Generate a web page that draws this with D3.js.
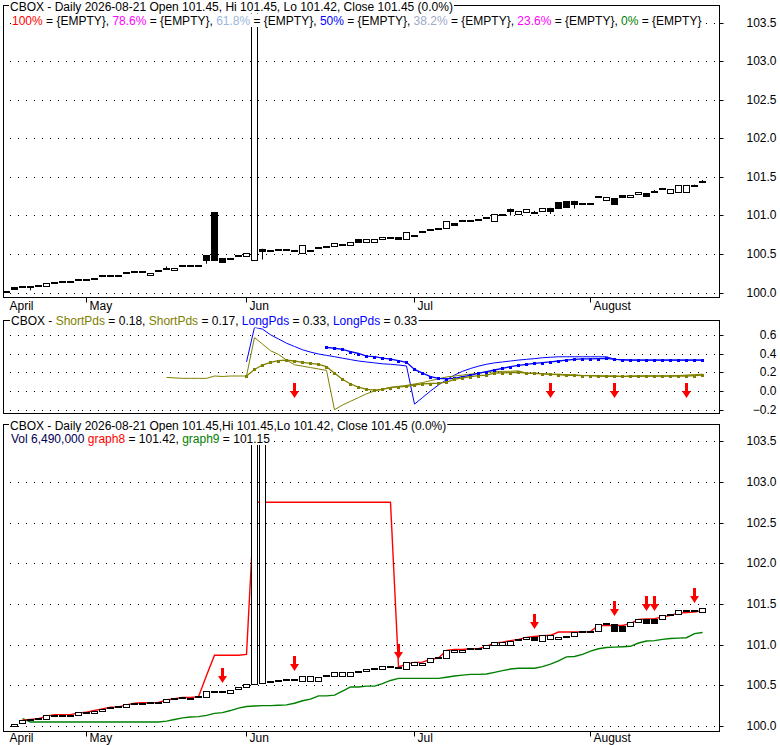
<!DOCTYPE html>
<html>
<head>
<meta charset="utf-8">
<script src="https://cdn.jsdelivr.net/npm/d3@7"></script>
<style>
  body { margin: 0; background: #fff; }
  svg { display: block; font-family: "Liberation Sans", Arial, sans-serif; }
</style>
</head>
<body>
<div id="chart"></div>
<script>
// month labels and the trading-day index where each month starts
const monthLabels = ['April', 'May', 'Jun', 'Jul', 'August'];
const monthStart = [0, 10, 30, 51, 73];

// tick values
const priceTicks = [100.0, 100.5, 101.0, 101.5, 102.0, 102.5, 103.0, 103.5];
const oscTicks = [-0.2, 0.0, 0.2, 0.4, 0.6];

// upper price panel (open / close per trading day)
const topOpen = [
  100.02, 100.07, 100.07, 100.075, 100.09, 100.09, 100.13, 100.15, 100.135, 100.16,
  100.17, 100.18, 100.21, 100.215, 100.215, 100.255, 100.285, 100.285, 100.235, 100.285,
  100.31, 100.30, 100.345, 100.365, 100.35, 100.485, 101.04, 100.445, 100.445, 100.47,
  100.48, 100.42, 100.57, 100.535, 100.55, 100.57, 100.55, 100.51, 100.535, 100.585,
  100.60, 100.61, 100.615, 100.62, 100.70, 100.66, 100.66, 100.69, 100.71, 100.725,
  100.69, 100.745, 100.80, 100.815, 100.83, 100.84, 100.90, 100.93, 100.935, 100.94,
  100.98, 100.93, 101.02, 101.09, 101.02, 101.045, 101.04, 101.06, 101.10, 101.175,
  101.19, 101.19, 101.145, 101.145, 101.24, 101.20, 101.225, 101.265, 101.235, 101.275,
  101.29, 101.31, 101.34, 101.29, 101.30, 101.30, 101.38, 101.44
];
const topClose = [
  100.00, 100.03, 100.07, 100.075, 100.09, 100.12, 100.13, 100.12, 100.135, 100.16,
  100.17, 100.18, 100.21, 100.215, 100.215, 100.255, 100.255, 100.255, 100.26, 100.285,
  100.31, 100.325, 100.345, 100.345, 100.35, 100.41, 100.41, 100.385, 100.42, 100.47,
  100.51, 104.5, 100.53, 100.535, 100.55, 100.55, 100.525, 100.62, 100.535, 100.585,
  100.58, 100.65, 100.615, 100.655, 100.65, 100.69, 100.69, 100.72, 100.71, 100.68,
  100.785, 100.725, 100.77, 100.815, 100.83, 100.93, 100.87, 100.93, 100.935, 100.94,
  100.96, 101.02, 100.99, 101.05, 101.055, 101.08, 101.02, 101.10, 101.05, 101.08,
  101.095, 101.13, 101.145, 101.145, 101.24, 101.24, 101.14, 101.225, 101.265, 101.31,
  101.245, 101.31, 101.34, 101.345, 101.40, 101.395, 101.38, 101.44
];
// [day index, high, low] where a wick shows
const topWicks = [
  [3, 100.075, 100.03], [20, 100.34, 100.31], [25, 100.485, 100.375], [32, 100.57, 100.43],
  [63, 101.09, 101.00], [66, 101.06, 101.02], [68, 101.10, 101.02], [71, 101.19, 101.09],
  [75, 101.24, 101.19], [81, 101.33, 101.31], [86, 101.40, 101.38], [87, 101.46, 101.42]
];

// lower price panel
const botOpen = [
  null, 100.01, 100.04, 100.08, 100.09, 100.085, 100.14, 100.14, 100.14, 100.13,
  100.17, 100.17, 100.19, 100.23, 100.235, 100.235, 100.28, 100.28, 100.285, 100.29,
  100.29, 100.335, 100.355, 100.35, 100.365, 100.355, 100.42, 100.43, 100.40, 100.45,
  100.475, 100.515, 100.53, 100.55, 100.555, 100.57, 100.575, 100.55, 100.55, 100.55,
  100.615, 100.62, 100.62, 100.62, 100.675, 100.675, 100.70, 100.705, 100.73, 100.73,
  100.70, 100.745, 100.745, 100.785, 100.835, 100.83, 100.905, 100.905, 100.955, 100.95,
  100.955, 100.99, 100.99, 101.00, 101.065, 101.065, 101.10, 101.04, 101.07, 101.085,
  101.10, 101.105, 101.155, 101.17, 101.165, 101.26, 101.26, 101.235, 101.235, 101.275,
  101.32, 101.32, 101.32, 101.37, 101.375, 101.415, 101.41, 101.40
];
const botClose = [
  null, 100.03, 100.075, 100.065, 100.09, 100.13, 100.125, 100.125, 100.125, 100.17,
  100.16, 100.19, 100.215, 100.215, 100.235, 100.265, 100.265, 100.265, 100.285, 100.28,
  100.33, 100.335, 100.34, 100.345, 100.35, 100.425, 100.42, 100.41, 100.445, 100.48,
  100.515, 104.5, 104.5, 100.53, 100.555, 100.57, 100.55, 100.62, 100.62, 100.605,
  100.615, 100.66, 100.66, 100.66, 100.66, 100.70, 100.70, 100.735, 100.73, 100.70,
  100.79, 100.785, 100.78, 100.83, 100.835, 100.94, 100.94, 100.94, 100.94, 100.95,
  100.99, 101.03, 101.03, 101.05, 101.05, 101.10, 101.04, 101.115, 101.115, 101.10,
  101.10, 101.15, 101.155, 101.15, 101.255, 101.26, 101.15, 101.15, 101.275, 101.32,
  101.26, 101.26, 101.36, 101.37, 101.42, 101.415, 101.41, 101.445
];
const graph8 = [
  null, null, 100.07, 100.08, 100.09, 100.12, 100.14, 100.14, 100.14, 100.16,
  100.17, 100.19, 100.21, 100.23, 100.235, 100.26, 100.28, 100.285, 100.285, 100.29,
  100.32, 100.335, 100.35, 100.35, 100.36, 100.62, 100.87, 100.87, 100.87, 100.87,
  100.88, 102.75, 102.75, 102.75, 102.75, 102.75, 102.75, 102.75, 102.75, 102.75,
  102.75, 102.75, 102.75, 102.75, 102.75, 102.75, 102.75, 102.75, 102.75, 100.725,
  100.76, 100.78, 100.785, 100.82, 100.835, 100.93, 100.94, 100.94, 100.95, 100.95,
  100.98, 101.02, 101.03, 101.05, 101.065, 101.09, 101.10, 101.11, 101.115, 101.155,
  101.155, 101.155, 101.155, 101.16, 101.235, 101.235, 101.235, 101.235, 101.26, 101.31,
  101.315, 101.32, 101.34, 101.36, 101.39, 101.395, 101.40, 101.42
];
const graph9 = [
  null, null, 100.09, 100.05, 100.05, 100.05, 100.05, 100.05, 100.05, 100.05,
  100.05, 100.05, 100.05, 100.05, 100.05, 100.05, 100.05, 100.05, 100.05, 100.05,
  100.06, 100.08, 100.10, 100.11, 100.115, 100.13, 100.155, 100.165, 100.19, 100.22,
  100.24, 100.245, 100.25, 100.25, 100.255, 100.26, 100.28, 100.31, 100.33, 100.37,
  100.37, 100.38, 100.43, 100.48, 100.48, 100.49, 100.49, 100.52, 100.56, 100.585,
  100.585, 100.585, 100.585, 100.585, 100.585, 100.60, 100.615, 100.625, 100.635, 100.635,
  100.64, 100.66, 100.68, 100.70, 100.71, 100.71, 100.71, 100.73, 100.76, 100.80,
  100.85, 100.855, 100.88, 100.92, 100.95, 100.965, 100.97, 100.975, 100.98, 101.02,
  101.045, 101.05, 101.065, 101.075, 101.08, 101.085, 101.135, 101.15
];
const botSignals = [27, 36, 49, 66, 76, 80, 81, 86];

// oscillator panel: each series starts at a given day index
const shortPdsAStart = 20;
const shortPdsA = [
  0.145, 0.14, 0.135, 0.135, 0.135, 0.135, 0.16, 0.155, 0.16, 0.16, 0.16,
  0.57, 0.50, 0.43, 0.39, 0.33, 0.28, 0.265, 0.25, 0.235, 0.22,
  -0.2, -0.15, -0.11, -0.07, -0.03, 0.0, 0.02, 0.04, 0.05, 0.06,
  0.075, 0.09, 0.11, 0.13, 0.15, 0.16, 0.17, 0.18, 0.19, 0.20,
  0.205, 0.21, 0.21, 0.215, 0.19, 0.19, 0.185, 0.18, 0.18, 0.175,
  0.17, 0.165, 0.165, 0.16, 0.155, 0.155, 0.155, 0.155, 0.155, 0.16,
  0.16, 0.16, 0.16, 0.165, 0.17, 0.175, 0.18
];
const shortPdsBStart = 30;
const shortPdsB = [
  0.16, 0.23, 0.277, 0.306, 0.323, 0.33, 0.32, 0.306, 0.295, 0.285,
  0.26, 0.19, 0.125, 0.075, 0.04, 0.018, 0.01, 0.018, 0.035, 0.045,
  0.05, 0.064, 0.075, 0.08, 0.085, 0.095, 0.125, 0.14, 0.153, 0.165,
  0.17, 0.19, 0.193, 0.197, 0.2, 0.19, 0.188, 0.183, 0.178, 0.175,
  0.168, 0.168, 0.165, 0.165, 0.16, 0.16, 0.16, 0.157, 0.16, 0.16,
  0.16, 0.16, 0.16, 0.16, 0.16, 0.16, 0.165, 0.17
];
const longPdsAStart = 30;
const longPdsA = [
  0.31, 0.68, 0.66, 0.60, 0.555, 0.51, 0.475, 0.44, 0.415, 0.395,
  0.38, 0.366, 0.35, 0.335, 0.32, 0.31, 0.30, 0.29, 0.285, 0.277,
  0.267, -0.14, -0.07, 0.0, 0.064, 0.12, 0.17, 0.21, 0.24, 0.265,
  0.285, 0.30, 0.31, 0.32, 0.33, 0.338, 0.345, 0.355, 0.36, 0.365,
  0.365, 0.365, 0.365, 0.365, 0.365, 0.365, 0.34, 0.33, 0.33, 0.33,
  0.33, 0.33, 0.33, 0.33, 0.33, 0.33, 0.33, 0.33
];
const longPdsBStart = 40;
const longPdsB = [
  0.466, 0.456, 0.445, 0.42, 0.40, 0.373, 0.366, 0.35, 0.34, 0.325,
  0.306, 0.23, 0.19, 0.153, 0.135, 0.13, 0.135, 0.153, 0.167, 0.19,
  0.206, 0.224, 0.242, 0.26, 0.274, 0.285, 0.295, 0.302, 0.31, 0.32,
  0.33, 0.338, 0.342, 0.342, 0.345, 0.348, 0.338, 0.335, 0.33, 0.33,
  0.33, 0.33, 0.33, 0.33, 0.33, 0.33, 0.33, 0.33
];
const oscSignals = [36, 68, 76, 85];
const oscSignalLevel = 0.0;

// fibonacci legend of the upper panel
const fibLevels = ['100%', '78.6%', '61.8%', '50%', '38.2%', '23.6%', '0%'];
const fibColors = ['#ff0000', '#ff00ff', '#9db6e0', '#0000ff', '#a3a9c9', '#ff00ff', '#008000'];

const olive = '#808000';
const blue = '#0000ff';

const W = 780, H = 745;
const left = 4, right = 719;

const svg = d3.select('#chart').append('svg')
  .attr('width', W)
  .attr('height', H);

const x = d3.scaleLinear().domain([-0.25, 89.125]).range([left, right]);

const panels = {
  top: { y0: 5, y1: 297, y: d3.scaleLinear().domain([100, 103.5]).range([292.7, 22.5]) },
  mid: { y0: 320, y1: 413, y: d3.scaleLinear().domain([-0.2, 0.6]).range([409.75, 334.75]) },
  bot: { y0: 424, y1: 731, y: d3.scaleLinear().domain([100, 103.5]).range([726, 441.3]) }
};

// gridlines and right axis of a panel
function drawFrame(p, ticks, fmt, id) {
  svg.append('clipPath').attr('id', id)
    .append('rect')
    .attr('x', left).attr('y', p.y0)
    .attr('width', right - left).attr('height', p.y1 - p.y0);

  svg.append('g')
    .selectAll('line')
    .data(ticks)
    .join('line')
    .attr('x1', left + 6).attr('x2', right)
    .attr('y1', d => Math.round(p.y(d)) + 0.5)
    .attr('y2', d => Math.round(p.y(d)) + 0.5)
    .attr('stroke', '#000')
    .attr('stroke-dasharray', '1,7');

  const ax = svg.append('g')
    .attr('transform', `translate(${right + 0.5},0)`)
    .call(d3.axisRight(p.y).tickValues(ticks).tickSize(4).tickFormat(fmt));
  ax.select('.domain').remove();
  ax.selectAll('.tick').attr('transform', d => `translate(0,${Math.round(p.y(d)) + 0.5})`);
  ax.selectAll('.tick line').attr('stroke', '#000');
  ax.selectAll('.tick text')
    .attr('x', 776 - right)
    .attr('text-anchor', 'end')
    .attr('fill', '#000')
    .style('font-size', '12px')
    .style('font-family', '"Liberation Sans", Arial, sans-serif');

  return svg.append('g').attr('clip-path', `url(#${id})`);
}

function drawBorder(p) {
  svg.append('rect')
    .attr('x', left - 0.5).attr('y', p.y0 + 0.5)
    .attr('width', right - left + 1).attr('height', p.y1 - p.y0)
    .attr('fill', 'none')
    .attr('stroke', '#000');
}

function drawMonths(p, textY) {
  const ax = svg.append('g')
    .attr('transform', `translate(0,${p.y1 + 0.5})`)
    .call(d3.axisBottom(x).tickValues(monthStart).tickSize(5)
      .tickFormat((d, i) => monthLabels[i]));
  ax.select('.domain').remove();
  ax.selectAll('.tick').attr('transform', d => `translate(${Math.round(x(d)) + 0.5},0)`);
  ax.selectAll('.tick line').attr('stroke', '#000')
    .attr('opacity', (d, i) => i === 0 ? 0 : 1);
  ax.selectAll('.tick text')
    .attr('text-anchor', 'start')
    .attr('x', 3)
    .attr('y', textY)
    .attr('fill', '#000')
    .style('font-size', '12px')
    .style('font-family', '"Liberation Sans", Arial, sans-serif');
}

function drawCandles(g, y, opens, closes, wicks) {
  const data = opens.map((o, i) => ({ i, o, c: closes[i] })).filter(d => d.o != null);

  g.append('g').selectAll('line')
    .data(wicks)
    .join('line')
    .attr('x1', d => Math.round(x(d[0])) + 0.5)
    .attr('x2', d => Math.round(x(d[0])) + 0.5)
    .attr('y1', d => y(d[1]))
    .attr('y2', d => y(d[2]))
    .attr('stroke', '#000');

  g.append('g').selectAll('rect')
    .data(data)
    .join('rect')
    .each(function(d) {
      const cx = Math.round(x(d.i));
      const yHi = Math.round(y(Math.max(d.o, d.c)));
      const yLo = Math.round(y(Math.min(d.o, d.c)));
      const r = d3.select(this);
      if (d.c > d.o) {
        // rising day: hollow box
        r.attr('x', cx - 2.5).attr('width', 6)
          .attr('y', yHi + 0.5).attr('height', Math.max(2, yLo - yHi))
          .attr('fill', '#fff').attr('stroke', '#000');
      } else {
        const h = Math.max(2, yLo - yHi);
        r.attr('x', cx - 3).attr('width', 7)
          .attr('y', d.c === d.o ? yHi - 1 : yHi).attr('height', h)
          .attr('fill', '#000');
      }
    });
}

function drawLine(g, y, values, color, width) {
  g.append('path')
    .datum(values.map((v, i) => ({ i, v })))
    .attr('fill', 'none')
    .attr('stroke', color)
    .attr('stroke-width', width)
    .attr('d', d3.line().defined(d => d.v != null).x(d => x(d.i) + 0.5).y(d => y(d.v)));
}

function padSeries(start, values) {
  return d3.range(monthStart[0], start).map(() => null).concat(values);
}

function drawMarkers(g, y, values, color) {
  g.append('g').selectAll('rect')
    .data(values.map((v, i) => ({ i, v })).filter(d => d.v != null))
    .join('rect')
    .attr('x', d => Math.round(x(d.i)) - 1)
    .attr('y', d => Math.round(y(d.v)) - 1)
    .attr('width', 3).attr('height', 3)
    .attr('fill', color);
}

function drawArrows(g, items) {
  g.append('g').selectAll('path')
    .data(items)
    .join('path')
    .attr('fill', '#ff0000')
    .attr('d', d => {
      const cx = Math.round(x(d.i)) + 0.5, t = d.tip;
      return `M${cx},${t}L${cx - 4.5},${t - 7}L${cx - 1.5},${t - 7}L${cx - 1.5},${t - 15}` +
        `L${cx + 1.5},${t - 15}L${cx + 1.5},${t - 7}L${cx + 4.5},${t - 7}Z`;
    });
}

// header text with white backing
function drawHeader(xPos, baseline, parts) {
  const g = svg.append('g');
  const t = g.append('text')
    .attr('x', xPos).attr('y', baseline)
    .style('font-size', '12px');
  parts.forEach(([s, c]) => t.append('tspan').attr('fill', c).text(s));
  const b = t.node().getBBox();
  g.insert('rect', 'text')
    .attr('x', b.x - 1).attr('y', b.y + 0.5)
    .attr('width', b.width + 2).attr('height', b.height - 1)
    .attr('fill', '#fff');
}

const f2 = d3.format('.2f');
const fmt1 = d3.format('.1f');

// ---- upper panel ----
const gTop = drawFrame(panels.top, priceTicks, fmt1, 'clipTop');
drawCandles(gTop, panels.top.y, topOpen, topClose, topWicks);
drawBorder(panels.top);
drawMonths(panels.top, 4);

// ---- oscillator panel ----
const gMid = drawFrame(panels.mid, oscTicks, fmt1, 'clipMid');
const sA = padSeries(shortPdsAStart, shortPdsA);
const sB = padSeries(shortPdsBStart, shortPdsB);
const lA = padSeries(longPdsAStart, longPdsA);
const lB = padSeries(longPdsBStart, longPdsB);
drawLine(gMid, panels.mid.y, lA, blue, 1);
drawLine(gMid, panels.mid.y, sA, olive, 1);
drawLine(gMid, panels.mid.y, lB, blue, 1.3);
drawMarkers(gMid, panels.mid.y, lB, blue);
drawLine(gMid, panels.mid.y, sB, olive, 1.3);
drawMarkers(gMid, panels.mid.y, sB, olive);
drawArrows(gMid, oscSignals.map(i => ({ i, tip: Math.round(panels.mid.y(oscSignalLevel)) + 7 })));
drawBorder(panels.mid);

// ---- lower panel ----
const gBot = drawFrame(panels.bot, priceTicks, fmt1, 'clipBot');
drawLine(gBot, panels.bot.y, graph9, '#008000', 1.4);
drawLine(gBot, panels.bot.y, graph8, '#ff0000', 1.4);
drawCandles(gBot, panels.bot.y, botOpen, botClose, []);
drawArrows(gBot, botSignals.map(i => ({
  i, tip: Math.round(panels.bot.y(Math.max(botOpen[i], botClose[i]))) - 8
})));
drawBorder(panels.bot);
drawMonths(panels.bot, 1.5);

// ---- headers ----
drawHeader(10, 11, [['CBOX - Daily 2026-08-21 Open 101.45, Hi 101.45, Lo 101.42, Close 101.45 (0.0%)', '#000']]);
const fibParts = [];
fibLevels.forEach((lv, k) => {
  fibParts.push([lv, fibColors[k]]);
  fibParts.push([' = {EMPTY}' + (k < fibLevels.length - 1 ? ', ' : ''), '#000']);
});
drawHeader(12, 24.5, fibParts);

drawHeader(11, 325, [
  ['CBOX - ', '#000'],
  ['ShortPds', olive], [` = ${f2(shortPdsA[shortPdsA.length - 1])}, `, '#000'],
  ['ShortPds', olive], [` = ${f2(shortPdsB[shortPdsB.length - 1])}, `, '#000'],
  ['LongPds', blue], [` = ${f2(longPdsA[longPdsA.length - 1])}, `, '#000'],
  ['LongPds', blue], [` = ${f2(longPdsB[longPdsB.length - 1])}`, '#000']
]);

drawHeader(10, 429.5, [['CBOX - Daily 2026-08-21 Open 101.45,Hi 101.45,Lo 101.42, Close 101.45 (0.0%)', '#000']]);
drawHeader(11, 442.5, [
  ['Vol 6,490,000 ', '#000050'],
  ['graph8', '#ff0000'], [` = ${f2(graph8[graph8.length - 1])}, `, '#000'],
  ['graph9', '#008000'], [` = ${f2(graph9[graph9.length - 1])}`, '#000']
]);
</script>
</body>
</html>
